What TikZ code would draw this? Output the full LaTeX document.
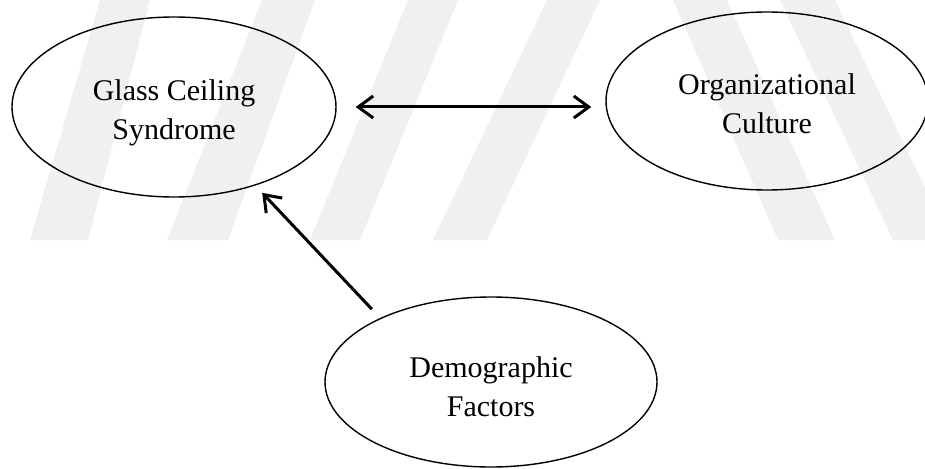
\documentclass[tikz,border=0pt]{standalone}
\usepackage{fontspec}
\setmainfont{Liberation Serif}
\usetikzlibrary{arrows.meta,shapes.geometric}
\begin{document}
\begin{tikzpicture}[x=1pt,y=-1pt,
  factor/.style={draw,ellipse,line width=1.4pt,inner sep=0pt},
  caption/.style={align=center,font=\fontsize{30}{39}\selectfont},
  link/.style={line width=3pt},
  barb/.tip={Straight Barb[length=15pt,width=22pt]},
  band/.style={fill=black!6,draw=none}]
\useasboundingbox (0,0) rectangle (925,468);
\fill[band] (100,0) -- (150,0) -- (88,240) -- (30,240) -- cycle;
\fill[band] (262,0) -- (315,0) -- (228,240) -- (167,240) -- cycle;
\fill[band] (408,0) -- (458,0) -- (360,240) -- (310,240) -- cycle;
\fill[band] (547,0) -- (600,0) -- (487,240) -- (433,240) -- cycle;
\fill[band] (673,0) -- (727,0) -- (835,240) -- (778,240) -- cycle;
\fill[band] (780,0) -- (835,0) -- (950,240) -- (893,240) -- cycle;
\node[factor,minimum width=324pt,minimum height=180pt,label={[caption,yshift=-6pt]center:Glass Ceiling\\Syndrome}] (gcs) at (174,107) {};
\node[factor,minimum width=322pt,minimum height=178pt,label={[caption,yshift=-3pt]center:Organizational\\Culture}] (oc) at (767,101) {};
\node[factor,minimum width=332pt,minimum height=170pt,label={[caption,yshift=-5pt]center:Demographic\\Factors}] (df) at (491,382) {};
\draw[link,barb-barb,shorten <=19pt,shorten >=14pt] (gcs.east) -- (gcs.east -| oc.west);
\draw[link,-barb,shorten <=12pt,shorten >=10pt] (df.150) -- (gcs.-44);
\end{tikzpicture}
\end{document}
